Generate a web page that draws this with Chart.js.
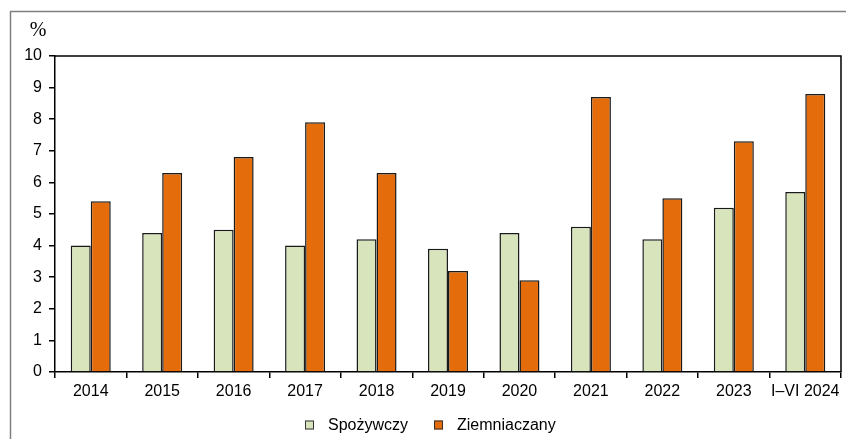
<!DOCTYPE html>
<html>
<head>
<meta charset="utf-8">
<script src="https://cdn.jsdelivr.net/npm/chart.js@4"></script>
<style>
html,body{margin:0;padding:0;background:#fff;}
#wrap{width:846px;height:439px;position:relative;}
</style>
</head>
<body>
<div id="wrap"><canvas id="c" width="846" height="439"></canvas></div>
<script>
const categories = ["2014","2015","2016","2017","2018","2019","2020","2021","2022","2023","I–VI 2024"];
const spozywczy = [4.0,4.4,4.5,4.0,4.2,3.9,4.4,4.6,4.2,5.2,5.7];
const ziemniaczany = [5.4,6.3,6.8,7.9,6.3,3.2,2.9,8.7,5.5,7.3,8.8];
const yTicks = [0,1,2,3,4,5,6,7,8,9,10];
const unitLabel = "%";

const FONT = "'Liberation Sans', Arial, sans-serif";

const framePlugin = {
  id: 'frame',
  beforeDraw(chart) {
    const ctx = chart.ctx;
    ctx.save();
    ctx.fillStyle = '#fff';
    ctx.fillRect(0,0,chart.width,chart.height);
    ctx.strokeStyle = '#7f7f7f';
    ctx.lineWidth = 1.5;
    ctx.beginPath();
    ctx.moveTo(chart.width + 5, 11.5);
    ctx.lineTo(10.5, 11.5);
    ctx.lineTo(10.5, chart.height + 5);
    ctx.stroke();
    ctx.restore();
  },
  afterDraw(chart) {
    const ctx = chart.ctx;
    const a = chart.chartArea;
    ctx.save();
    ctx.strokeStyle = '#000';
    ctx.lineWidth = 1.5;
    ctx.beginPath();
    ctx.moveTo(a.left, a.top);
    ctx.lineTo(a.right, a.top);
    ctx.lineTo(a.right, a.bottom);
    ctx.stroke();
    ctx.fillStyle = '#000';
    ctx.font = "20px 'Liberation Serif', serif";
    ctx.textAlign = 'center';
    ctx.textBaseline = 'middle';
    ctx.fillText(unitLabel, 38, 31);

    // legend
    ctx.font = "16px " + FONT;
    ctx.textAlign = 'left';
    const ds = chart.data.datasets;
    const box = 9, gapText = 14, gapItem = 26;
    const widths = ds.map(d => ctx.measureText(d.label).width);
    let total = 0;
    widths.forEach((w, i) => { total += box + gapText + w + (i < widths.length - 1 ? gapItem : 0); });
    let x = Math.round(430 - total / 2);
    const cy = 425;
    ds.forEach((d, i) => {
      ctx.fillStyle = d.backgroundColor;
      ctx.fillRect(x, cy - 4.5, box, box);
      ctx.strokeStyle = '#333';
      ctx.lineWidth = 1;
      ctx.strokeRect(x + 0.5, cy - 4.5 + 0.5, box - 1, box - 1);
      ctx.fillStyle = '#000';
      ctx.fillText(d.label, x + box + gapText, cy + 1);
      x += box + gapText + widths[i] + gapItem;
    });
    ctx.restore();
  }
};

new Chart(document.getElementById('c'), {
  type: 'bar',
  data: {
    labels: categories,
    datasets: [
      { label: 'Spożywczy', data: spozywczy, backgroundColor: '#d8e4bc', borderColor: '#1a1a1a', borderWidth: 1.5 },
      { label: 'Ziemniaczany', data: ziemniaczany, backgroundColor: '#e46c0a', borderColor: '#1a1a1a', borderWidth: 1.5 }
    ]
  },
  options: {
    responsive: false,
    animation: false,
    devicePixelRatio: 1,
    layout: { padding: { left: 0, right: 5, top: 56, bottom: 29 } },
    datasets: { bar: { categoryPercentage: 0.56, barPercentage: 1.0 } },
    plugins: {
      legend: { display: false },
      tooltip: { enabled: false }
    },
    scales: {
      x: {
        offset: true,
        grid: { display: true, offset: true, drawOnChartArea: false, color: '#000', tickLength: 6, lineWidth: 1.5 },
        border: { display: true, color: '#000', width: 1.5 },
        ticks: { font: { family: FONT, size: 16 }, color: '#000', padding: 4, maxRotation: 0, autoSkip: false },
        afterFit(s) { s.height = 38; }
      },
      y: {
        min: 0, max: 10,
        afterBuildTicks(s) { s.ticks = yTicks.map(v => ({ value: v })); },
        grid: { display: true, drawOnChartArea: false, color: '#000', tickLength: 6, lineWidth: 1.5 },
        border: { display: true, color: '#000', width: 1.5 },
        ticks: { font: { family: FONT, size: 16 }, color: '#000', padding: 7 },
        afterFit(s) { s.width = 55; }
      }
    }
  },
  plugins: [framePlugin]
});
</script>
</body>
</html>
